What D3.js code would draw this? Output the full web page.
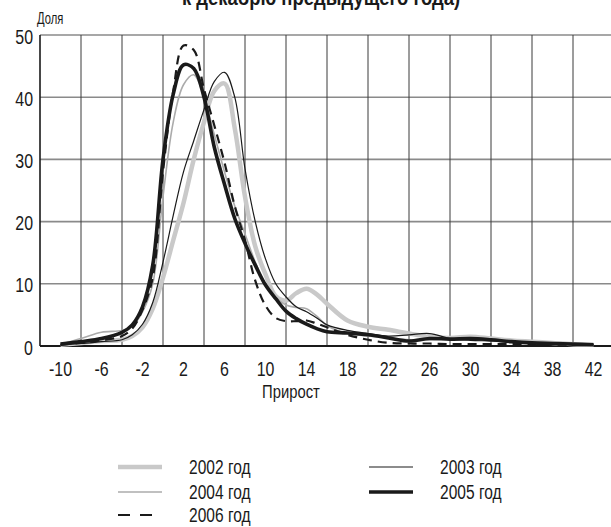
<!DOCTYPE html>
<html>
<head>
<meta charset="utf-8">
<script src="https://cdn.jsdelivr.net/npm/d3@7"></script>
<style>
  html, body { margin: 0; padding: 0; background: #fff; }
  svg { display: block; }
  text { font-family: "Liberation Sans", Arial, sans-serif; fill: #1a1a1a; }
</style>
</head>
<body>
<svg id="chart" width="611" height="527"></svg>
<script>
// Growth values (x) shared by all series
const growth = [-10,-8,-6,-4,-3,-2,-1,0,1,2,3,4,5,6,7,8,9,10,11,12,13,14,15,16,18,20,22,24,26,28,30,32,34,36,38,40,42];

// Share of observations for each year
const y2002 = [0.2,0.5,0.8,1.0,1.6,3.0,6.0,11,17,23,30,36,41,42.2,35,24,16,11.5,8,7.3,8.5,9.2,8.3,6.8,4.1,3.1,2.6,2.0,1.5,1.3,1.5,1.2,0.9,0.7,0.5,0.3,0.2];
const y2003 = [0.2,0.4,0.7,1.0,1.8,3.5,7,13.5,21,28,33,38,42.5,44,40,28.5,20,14,10,7.9,6.3,5.5,4.5,3.4,2.5,2.0,1.6,1.8,2.0,1.2,0.9,0.8,0.6,0.5,0.4,0.3,0.2];
const y2004 = [0.3,1.2,2.2,2.5,3.2,5.5,10,24,36,42,43.6,40,34,28,22.5,18,13.5,10,7.8,6.6,6.2,6.0,4.8,3.3,2.0,1.6,1.3,1.0,1.0,1.2,1.3,1.0,0.7,0.5,0.4,0.3,0.2];
const y2005 = [0.3,0.7,1.2,2.2,3.4,6.3,13,30,40.5,45.2,44.6,40,32,26,20.5,16.5,13,9.8,7.6,5.6,4.4,3.5,2.8,2.3,2.1,1.8,1.3,0.8,1.2,1.1,1.2,1.0,0.7,0.5,0.4,0.3,0.2];
const y2006 = [0.2,0.5,0.9,1.6,2.8,5.8,11,28,41,48.3,47.6,41.3,35.5,29.5,22.5,17,10.5,6.5,4.5,4.0,4.0,4.1,3.6,3.0,1.8,1.0,0.5,0.4,0.4,0.3,0.3,0.3,0.3,0.2,0.2,0.2,0.2];

// Axis labels
const xTickLabels = [-10,-6,-2,2,6,10,14,18,22,26,30,34,38,42];
const xGridValues = [-12,-8,-4,0,4,8,12,16,20,24,28,32,36,40,44];
const yTickLabels = [0,10,20,30,40,50];

const seriesNames = ["2002 год","2003 год","2004 год","2005 год","2006 год"];

const svg = d3.select("#chart");

const x = d3.scaleLinear().domain([-12, 44]).range([40, 614]);
const y = d3.scaleLinear().domain([0, 50]).range([346, 35]);

// Narrow lettering: regular face squeezed horizontally around its anchor
function label(parent, px, py, str, size, anchor, opts = {}) {
  const sx = opts.sx || 0.76;
  const t = parent.append("text")
    .attr("transform", `translate(${px},${py}) scale(${sx},1)`)
    .attr("text-anchor", anchor || "start")
    .style("font-size", size + "px")
    .text(str);
  if (opts.dy) t.attr("dy", opts.dy);
  if (opts.bold) t.style("font-weight", "bold");
  return t;
}

// Title (continues above the visible area)
label(svg, 321, 5, "к декабрю предыдущего года)", 22, "middle", { bold: true, sx: 0.84 });

// Horizontal grid
svg.append("g").selectAll("line")
  .data(yTickLabels.filter(d => d > 0))
  .join("line")
  .attr("x1", x(-12)).attr("x2", 611)
  .attr("y1", d => y(d)).attr("y2", d => y(d))
  .attr("stroke", "#8a8a8a").attr("stroke-width", 1.6);

// Vertical grid
svg.append("g").selectAll("line")
  .data(xGridValues)
  .join("line")
  .attr("x1", d => x(d)).attr("x2", d => x(d))
  .attr("y1", y(50)).attr("y2", y(0))
  .attr("stroke", d => d === -12 ? "#1a1a1a" : "#3a3a3a")
  .attr("stroke-width", d => d === -12 ? 1.6 : 1);

// Baseline
svg.append("line")
  .attr("x1", x(-12)).attr("x2", 611)
  .attr("y1", y(0)).attr("y2", y(0))
  .attr("stroke", "#1a1a1a").attr("stroke-width", 2);

// Y tick labels
const gy = svg.append("g");
yTickLabels.forEach(d => label(gy, 33, y(d) + 1, d, 21, "end", { dy: "0.36em" }));

// X tick labels
const gx = svg.append("g");
xTickLabels.forEach(d => label(gx, x(d), 368, d, 21, "middle", { dy: "0.36em" }));

// Axis titles
label(svg, 37, 24, "Доля", 16, "start", { sx: 0.7 });
label(svg, 291, 391, "Прирост", 19, "middle", { dy: "0.36em", sx: 0.78 });

// Series styling
const styles = {
  "2002 год": { data: y2002, color: "#c9c9c9", width: 4.5, dash: null },
  "2004 год": { data: y2004, color: "#ababab", width: 1.6, dash: null },
  "2003 год": { data: y2003, color: "#1a1a1a", width: 1.2, dash: null },
  "2006 год": { data: y2006, color: "#1a1a1a", width: 2.2, dash: "9,6" },
  "2005 год": { data: y2005, color: "#1a1a1a", width: 3.6, dash: null }
};
const drawOrder = ["2002 год","2004 год","2003 год","2006 год","2005 год"];

const line = d3.line()
  .x(d => x(d[0]))
  .y(d => y(d[1]))
  .curve(d3.curveCatmullRom.alpha(0.5));

svg.append("g").selectAll("path")
  .data(drawOrder)
  .join("path")
  .attr("d", name => line(growth.map((g, i) => [g, styles[name].data[i]])))
  .attr("fill", "none")
  .attr("stroke", name => styles[name].color)
  .attr("stroke-width", name => styles[name].width)
  .attr("stroke-dasharray", name => styles[name].dash)
  .attr("stroke-linejoin", "round");

// Legend
const legendPos = {
  "2002 год": [118, 467],
  "2004 год": [118, 492],
  "2006 год": [118, 515],
  "2003 год": [369, 467],
  "2005 год": [369, 492]
};
const legend = svg.append("g").selectAll("g")
  .data(seriesNames)
  .join("g")
  .attr("transform", name => `translate(${legendPos[name][0]},${legendPos[name][1]})`);

legend.append("line")
  .attr("x1", 0).attr("x2", 44)
  .attr("y1", 0).attr("y2", 0)
  .attr("stroke", name => styles[name].color)
  .attr("stroke-width", name => styles[name].width)
  .attr("stroke-dasharray", name => styles[name].dash ? "12,10" : null);

legend.each(function(name) {
  label(d3.select(this), 71, 0, name, 21, "start", { dy: "0.34em", sx: 0.74 });
});
</script>
</body>
</html>
